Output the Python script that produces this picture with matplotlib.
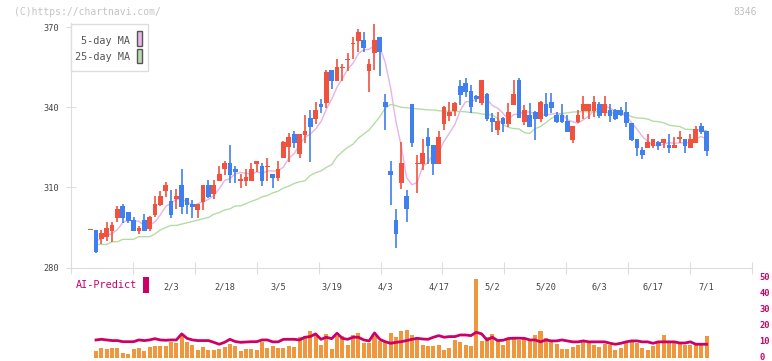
import matplotlib
matplotlib.use("Agg")
import matplotlib.pyplot as plt
import matplotlib.patches as patches
import numpy as np
import pandas as pd

# daily candles, 2025-01-14 .. 2025-07-01 (index 0..115)
opens = [294.0, 294.0, 290.6, 291.5, 293.7, 298.7, 303.1, 300.8, 297.8, 293.8,
         297.8, 294.6, 299.7, 303.4, 308.7, 305.0, 305.7, 311.0, 305.9, 303.8,
         301.6, 304.7, 311.0, 307.6, 312.5, 316.8, 319.3, 316.8, 312.6, 312.5,
         312.5, 318.8, 318.0, 317.8, 315.0, 313.6, 320.9, 325.0, 330.0, 322.5,
         329.6, 335.9, 335.6, 341.2, 341.7, 353.9, 349.9, 354.7, 357.7, 363.7,
         364.9, 365.1, 353.7, 360.2, 366.4, 342.1, 316.1, 297.8, 311.8, 306.8,
         341.2, 318.8, 318.8, 329.0, 325.9, 318.8, 333.7, 336.8, 338.7, 348.0,
         349.2, 346.2, 344.2, 341.7, 345.0, 336.1, 331.5, 336.1, 333.6, 340.8,
         350.2, 334.6, 337.1, 338.3, 335.6, 341.2, 342.1, 337.1, 337.1, 334.8,
         327.7, 334.4, 338.6, 338.6, 338.6, 341.2, 337.7, 339.0, 339.0, 339.0,
         338.3, 334.0, 328.1, 324.0, 324.9, 325.6, 327.1, 326.7, 325.9, 324.9,
         328.1, 328.1, 324.9, 326.7, 333.0, 331.1]
highs = [294.1, 294.1, 294.0, 297.0, 297.0, 303.0, 303.8, 301.0, 299.0, 295.5,
         300.0, 299.5, 306.8, 308.7, 312.2, 309.0, 309.3, 316.9, 306.0, 305.3,
         304.0, 311.0, 312.8, 312.8, 318.1, 320.0, 325.9, 318.1, 315.0, 316.8,
         319.3, 320.0, 319.0, 321.1, 315.0, 320.0, 327.5, 330.2, 331.1, 330.0,
         337.1, 339.0, 342.0, 343.1, 353.9, 354.0, 358.0, 356.2, 360.4, 366.4,
         369.1, 368.0, 358.0, 371.0, 366.4, 345.0, 320.0, 301.9, 327.0, 309.0,
         341.2, 322.1, 328.1, 332.1, 325.9, 331.1, 340.5, 342.1, 342.1, 350.2,
         351.0, 348.3, 344.5, 350.2, 345.5, 338.0, 338.3, 336.3, 341.5, 350.2,
         351.0, 340.8, 341.5, 338.5, 342.2, 345.2, 345.2, 338.3, 341.2, 337.1,
         333.0, 339.0, 344.3, 341.3, 344.2, 342.1, 344.2, 341.2, 339.2, 340.2,
         342.1, 334.0, 328.1, 325.0, 330.0, 328.3, 327.2, 328.2, 330.0, 329.0,
         331.2, 328.2, 330.0, 333.0, 334.0, 331.2]
lows = [294.0, 285.5, 288.8, 290.0, 289.7, 297.0, 296.8, 296.6, 293.8, 292.7,
        293.8, 293.8, 298.8, 303.0, 306.5, 298.5, 301.8, 300.0, 300.0, 298.7,
        298.5, 301.6, 306.0, 305.7, 312.5, 314.7, 311.8, 311.8, 309.7, 310.6,
        312.5, 315.9, 310.7, 312.5, 309.7, 312.5, 320.9, 319.6, 324.9, 320.9,
        326.5, 319.6, 333.7, 338.0, 339.8, 346.8, 349.9, 349.9, 353.5, 357.9,
        360.8, 360.8, 345.8, 353.9, 351.8, 331.5, 303.4, 287.2, 309.5, 297.0,
        325.0, 307.8, 316.5, 318.8, 314.7, 318.8, 331.5, 335.0, 336.8, 340.8,
        343.9, 338.0, 342.1, 340.8, 335.0, 330.8, 329.6, 330.8, 332.7, 340.8,
        335.9, 333.4, 332.7, 327.7, 334.6, 336.5, 338.0, 334.0, 334.0, 330.8,
        326.7, 334.0, 335.6, 335.5, 336.5, 335.9, 336.8, 334.6, 335.4, 336.8,
        332.7, 327.5, 321.8, 320.6, 324.9, 324.9, 324.0, 324.9, 322.8, 324.9,
        326.7, 322.8, 324.9, 326.7, 330.0, 321.9]
closes = [294.2, 285.7, 293.1, 295.0, 295.8, 301.8, 298.7, 297.6, 293.8, 295.0,
          293.8, 299.1, 303.8, 306.8, 311.0, 299.7, 306.8, 302.8, 303.4, 302.8,
          303.8, 311.0, 306.6, 311.0, 315.0, 319.3, 314.7, 315.9, 313.0, 313.8,
          316.8, 319.8, 312.5, 318.2, 313.6, 316.9, 327.1, 329.0, 326.7, 330.0,
          331.1, 332.7, 339.0, 340.0, 353.3, 349.9, 355.2, 355.1, 358.1, 364.1,
          368.0, 362.0, 356.2, 365.1, 360.8, 340.0, 314.7, 292.6, 319.3, 301.8,
          326.7, 319.2, 323.0, 325.6, 318.8, 329.0, 340.0, 338.3, 341.5, 344.6,
          345.8, 340.0, 343.0, 350.2, 335.6, 334.6, 334.8, 333.6, 338.3, 345.0,
          335.9, 339.0, 332.7, 335.6, 342.1, 336.7, 339.8, 334.6, 334.6, 330.8,
          333.0, 337.1, 341.2, 341.2, 342.1, 336.8, 341.2, 336.8, 335.6, 337.1,
          334.0, 327.7, 324.9, 322.1, 327.1, 328.1, 325.6, 328.1, 324.9, 325.9,
          329.0, 325.6, 328.1, 331.9, 330.8, 323.7]

# 25-day MA as drawn (index 1..115)
ma25 = [288.7, 288.7, 288.7, 289.7, 289.7, 290.6, 290.6, 290.6, 291.6, 291.6,
        291.6, 292.6, 294.1, 295.0, 295.8, 295.8, 296.3, 296.8, 297.3, 297.8,
        298.3, 298.8, 300.0, 300.6, 301.6, 302.0, 303.1, 303.1, 304.0, 304.8,
        305.5, 306.5, 307.0, 308.0, 308.6, 309.8, 310.5, 311.5, 312.1, 312.5,
        314.5, 315.5, 316.2, 317.5, 318.5, 321.5, 323.4, 325.0, 326.2, 328.5,
        330.0, 331.5, 334.0, 336.5, 339.6, 341.0, 340.6, 340.0, 339.8, 339.6,
        339.4, 339.2, 339.0, 339.0, 338.7, 338.6, 338.5, 338.4, 338.4, 338.3,
        338.0, 337.9, 337.5, 337.3, 337.1, 335.8, 333.5, 332.5, 332.0, 331.9,
        330.5, 330.2, 332.0, 332.8, 334.2, 335.8, 337.0, 337.7, 337.9, 338.2,
        338.3, 338.3, 338.3, 338.3, 338.2, 338.0, 337.9, 337.8, 337.8, 337.6,
        336.5, 336.0, 335.9, 335.6, 334.8, 334.6, 334.2, 333.3, 333.0, 332.8,
        331.8, 331.7, 331.6, 331.5, 331.2]

# volume (index 1..115)
volume = [4.3, 6.0, 5.5, 6.0, 6.0, 2.8, 2.2, 5.5, 6.0, 4.3,
          6.8, 7.2, 7.2, 7.2, 9.7, 9.3, 13.5, 9.7, 7.9, 4.9,
          6.6, 4.9, 4.7, 5.5, 6.6, 8.3, 7.2, 4.3, 5.5, 5.3,
          4.7, 9.9, 5.9, 7.1, 5.9, 5.9, 7.1, 6.6, 12.7, 13.5,
          16.7, 14.1, 7.8, 14.8, 5.3, 13.5, 13.5, 7.8, 14.1, 15.4,
          9.3, 9.3, 13.5, 10.6, 10.6, 15.4, 12.7, 16.7, 17.3, 14.1,
          12.7, 7.8, 7.1, 7.1, 7.8, 4.7, 5.9, 11.0, 9.8, 7.8,
          7.1, 49.2, 10.4, 12.7, 14.8, 10.4, 7.8, 11.7, 12.0, 10.7,
          12.3, 10.6, 14.1, 16.8, 12.0, 10.6, 8.5, 5.3, 5.3, 6.8,
          7.8, 9.9, 9.3, 7.8, 6.8, 8.5, 7.8, 4.4, 6.2, 9.3,
          10.6, 8.9, 6.2, 4.4, 7.1, 9.3, 14.1, 9.9, 9.9, 8.5,
          7.8, 7.8, 7.8, 7.8, 13.5]
ai_predict = [11.0, 11.4, 11.0, 10.6, 10.6, 9.9, 9.9, 9.9, 11.0, 10.6,
              11.0, 11.8, 11.0, 10.8, 11.0, 11.0, 14.8, 12.0, 11.0, 10.6,
              10.6, 10.6, 9.5, 8.3, 9.5, 11.4, 10.0, 9.5, 9.7, 9.9,
              9.9, 11.0, 11.0, 9.8, 9.8, 11.4, 11.4, 11.4, 11.0, 12.7,
              13.1, 14.8, 11.4, 12.7, 11.8, 15.2, 12.0, 11.4, 12.7, 12.7,
              11.0, 10.4, 15.4, 11.4, 9.9, 8.9, 9.5, 9.9, 10.6, 11.4,
              12.0, 11.6, 11.4, 12.7, 13.7, 12.7, 13.1, 13.1, 14.1, 14.1,
              13.7, 15.8, 14.8, 11.0, 12.7, 10.6, 10.8, 11.9, 12.1, 12.1,
              12.0, 11.0, 11.0, 9.8, 11.0, 10.4, 10.4, 11.0, 10.4, 9.8,
              9.8, 10.4, 9.8, 9.8, 9.8, 9.8, 8.9, 8.3, 8.9, 9.8,
              10.4, 10.4, 9.8, 9.8, 8.9, 9.8, 9.8, 9.8, 9.8, 9.1,
              9.1, 9.8, 8.3, 8.3, 8.3]

date_idx = [15, 25, 35, 45, 55, 65, 75, 85, 95, 105, 115]
date_labels = ["2/3", "2/18", "3/5", "3/19", "4/3", "4/17", "5/2", "5/20", "6/3", "6/17", "7/1"]
price_ticks = [280, 310, 340, 370]
vol_ticks = [0, 10, 20, 30, 40, 50]

W, H = 772, 361
RED = "#f0523e"
BLUE = "#3f7ff0"
MAGENTA = "#cc0066"
MONO = "DejaVu Sans Mono"


def fx(x):
    return x / W


def fy(y):
    return 1 - y / H


fig = plt.figure(figsize=(W / 100, H / 100), dpi=100)
fig.patch.set_facecolor("white")

x_left, x_right = -3.73, 123.55
ax = fig.add_axes([fx(70.7), fy(267.7), fx(752.3 - 70.7), (267.7 - 23) / H])
ax.set_xlim(x_left, x_right)
ax.set_ylim(280, 371.5)

o = np.array(opens)
h = np.array(highs)
l = np.array(lows)
c = np.array(closes)
idx = np.arange(len(o))
cols = [RED if cc >= oo else BLUE for oo, cc in zip(o, c)]

ax.vlines(idx, l, h, colors=cols, linewidth=1.2, zorder=3)
body = np.maximum(np.abs(c - o), 0.4)
ax.bar(idx, body, bottom=np.minimum(o, c), width=0.88, color=cols, zorder=3)

ma5 = pd.Series(c).rolling(5, min_periods=1).mean().values
ax.plot(idx[1:], ma5[1:], color="#e6b4e6", linewidth=1.0, zorder=2)
ax.plot(idx[1:], ma25, color="#b6dca6", linewidth=1.0, zorder=2)

for s in ["top", "right"]:
    ax.spines[s].set_visible(False)
for s in ["left", "bottom"]:
    ax.spines[s].set_color("#dddddd")
ax.set_yticks(price_ticks)
ax.set_yticklabels([str(v) for v in price_ticks], fontsize=6.2, family=MONO, color="#444444")
ax.tick_params(axis="y", direction="inout", length=7, color="#dddddd", pad=5)
ax.set_xticks(np.linspace(x_left, x_right, 12))
ax.set_xticklabels([])
ax.tick_params(axis="x", which="major", direction="inout", length=8, color="#dddddd")
ax.set_xticks(date_idx, labels=date_labels, minor=True)
ax.tick_params(axis="x", which="minor", length=0, pad=11, labelsize=6.2, labelcolor="#444444")
for t in ax.get_xticklabels(minor=True):
    t.set_family(MONO)

# legend box
fig.add_artist(patches.Rectangle((fx(70.7), fy(71)), fx(148.3 - 70.7), (71 - 24.3) / H,
                                 transform=fig.transFigure, facecolor="white",
                                 edgecolor="#dddddd", linewidth=1, zorder=5))
fig.text(fx(130), fy(41), "5-day MA", ha="right", va="center", fontsize=7.3,
         family=MONO, color="#555555", zorder=6)
fig.text(fx(130), fy(57), "25-day MA", ha="right", va="center", fontsize=7.3,
         family=MONO, color="#555555", zorder=6)
for yy, fc in [(31.3, "#e8b8e8"), (48.7, "#b8dcb0")]:
    fig.add_artist(patches.Rectangle((fx(137), fy(yy + 14.5)), fx(5.3), 14.5 / H,
                                     transform=fig.transFigure, facecolor=fc,
                                     edgecolor="#555555", linewidth=1, zorder=6))

fig.text(fx(14), fy(12), "(C)https://chartnavi.com/", ha="left", va="center",
         fontsize=7, family=MONO, color="#c4c4c4")
fig.text(fx(757), fy(12), "8346", ha="right", va="center", fontsize=7,
         family=MONO, color="#c0c0c0")

# volume pane
vx = fig.add_axes([fx(70.7), fy(357.5), fx(752.3 - 70.7), (357.5 - 277.7) / H])
vx.patch.set_visible(False)
vx.set_xlim(x_left, x_right)
vx.set_ylim(0, 50)
vidx = np.arange(1, len(volume) + 1)
vx.bar(vidx, volume, width=0.75, color="#f0963c", zorder=2)
vx.plot(vidx, ai_predict, color=MAGENTA, linewidth=2.0, zorder=3)
for s in vx.spines.values():
    s.set_visible(False)
vx.set_xticks([])
vx.yaxis.tick_right()
vx.set_yticks(vol_ticks)
vx.set_yticklabels([str(v) for v in vol_ticks], fontsize=6.3, family=MONO,
                   color=MAGENTA, fontweight="bold")
for t in vx.get_yticklabels():
    t.set_va("center")
vx.tick_params(axis="y", length=0, pad=5)

fig.text(fx(76), fy(284.5), "AI-Predict", ha="left", va="center", fontsize=7.3,
         family=MONO, color=MAGENTA)
fig.add_artist(patches.Rectangle((fx(142.5), fy(292.7)), fx(6.5), 16 / H,
                                 transform=fig.transFigure, facecolor=MAGENTA,
                                 edgecolor="none"))

fig.savefig("out.png", dpi=100)
